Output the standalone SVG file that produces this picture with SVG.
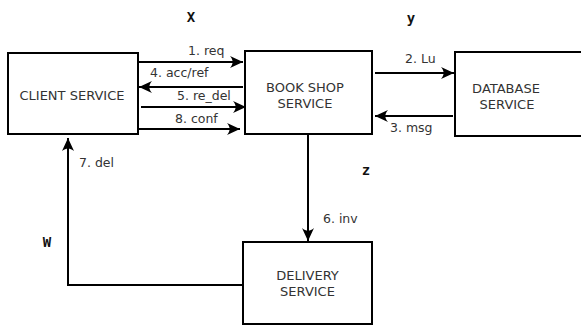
<svg xmlns="http://www.w3.org/2000/svg" width="581" height="325" viewBox="0 0 581 325">
<defs>
<marker id="ah" markerUnits="userSpaceOnUse" markerWidth="16" markerHeight="14" viewBox="-14 -7 16 14" refX="0" refY="0" orient="auto">
<path d="M0,0 L-13,-6 C-9.5,-2 -9.5,2 -13,6 Z" fill="#000"/>
</marker>
<style>
.box{fill:#fff;stroke:#000;stroke-width:2}
.bt{font-family:"DejaVu Sans",sans-serif;font-size:13px;fill:#333;text-anchor:middle}
.lb{font-family:"DejaVu Sans",sans-serif;font-size:12.5px;fill:#333}
.big{font-family:"DejaVu Sans Mono",monospace;font-size:14px;font-weight:bold;fill:#111;text-anchor:middle}
.ln{fill:none;stroke:#000;stroke-width:2}
.ar{marker-end:url(#ah)}
</style>
</defs>
<rect width="581" height="325" fill="#fff"/>
<g id="client">
<rect class="box" x="8" y="53" width="130" height="81"/>
<text class="bt" x="72" y="100">CLIENT SERVICE</text>
</g>
<g id="bookshop">
<rect class="box" x="245" y="51" width="127" height="83"/>
<text class="bt" x="305" y="92">BOOK SHOP</text>
<text class="bt" x="305" y="108">SERVICE</text>
</g>
<g id="database">
<rect class="box" x="455" y="52" width="130" height="84"/>
<text class="bt" x="506" y="93">DATABASE</text>
<text class="bt" x="507" y="109">SERVICE</text>
</g>
<g id="delivery">
<rect class="box" x="243" y="242" width="129" height="82"/>
<text class="bt" x="307.5" y="280">DELIVERY</text>
<text class="bt" x="307.5" y="296">SERVICE</text>
</g>
<g id="connectors">
<path class="ln ar" d="M139,62 H243"/>
<path class="ln ar" d="M243,87 H139"/>
<path class="ln ar" d="M141,107 H246"/>
<path class="ln ar" d="M138,129 H240"/>
<path class="ln ar" d="M375,73 H454"/>
<path class="ln ar" d="M453,116 H375"/>
<path class="ln ar" d="M308,134 V241"/>
<path class="ln ar" d="M243,285 H68 V138"/>
</g>
<g id="labels">
<text class="lb" x="188" y="55">1. req</text>
<text class="lb" x="150" y="77">4. acc/ref</text>
<text class="lb" x="177" y="100">5. re_del</text>
<text class="lb" x="175" y="123">8. conf</text>
<text class="lb" x="405" y="63">2. Lu</text>
<text class="lb" x="390" y="132">3. msg</text>
<text class="lb" x="323" y="223">6. inv</text>
<text class="lb" x="79" y="167">7. del</text>
<text class="big" x="191" y="22">X</text>
<text class="big" x="411" y="23">y</text>
<text class="big" x="366" y="175">z</text>
<text class="big" x="47" y="247">W</text>
</g>
</svg>
